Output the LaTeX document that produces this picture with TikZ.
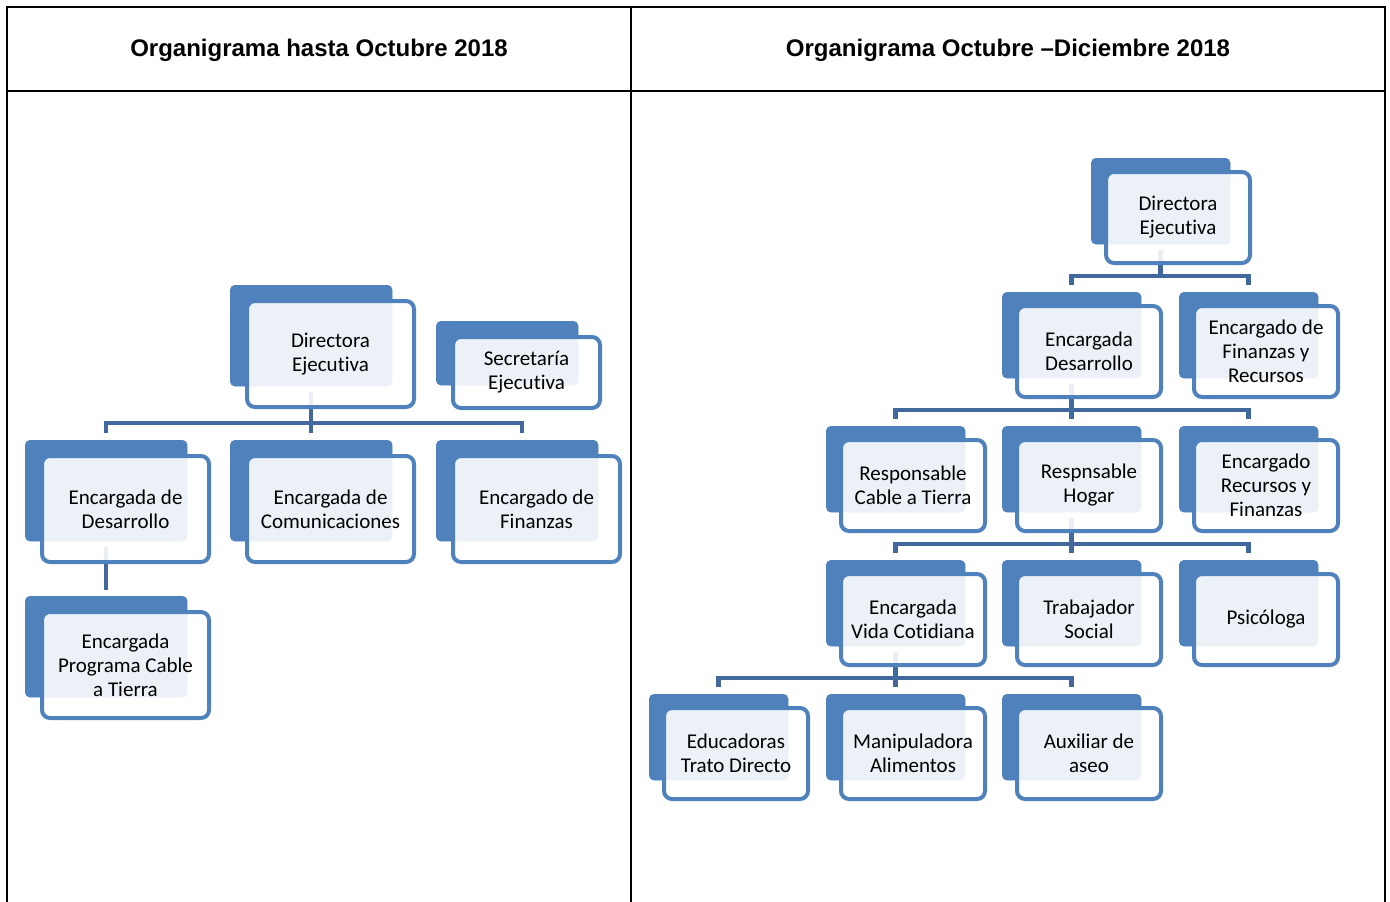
\documentclass[tikz,border=0pt]{standalone}
\usepackage{fontspec}
\setmainfont{Carlito}[Ligatures={NoCommon}, RawFeature={-liga,-clig,-calt,-dlig,-rlig}]
\newfontfamily\hdrfont{Liberation Sans}
\definecolor{boxblue}{HTML}{4F81BD}
\definecolor{connblue}{HTML}{41699D}
\begin{document}
\begin{tikzpicture}[x=1pt,y=-1pt,
  hdr/.style={font=\hdrfont\bfseries\fontsize{24}{28}\selectfont, inner sep=0pt},
  back/.style={fill=boxblue, draw=none, rounded corners=5pt, inner sep=0pt, anchor=north west},
  lback/.style={back, minimum width=162pt, minimum height=101pt},
  sback/.style={back, minimum width=142pt, minimum height=64pt},
  rback/.style={back, minimum width=139pt, minimum height=86pt},
  frame/.style={draw=boxblue, line width=4pt, fill=white, fill opacity=0.89, text opacity=1,
    rounded corners=8pt, inner sep=0pt, align=center, anchor=north west,
    font=\fontsize{21}{24}\selectfont},
  lframe/.style={frame, minimum width=167pt, minimum height=106pt, xshift=15pt, yshift=-14pt},
  sframe/.style={frame, minimum width=147pt, minimum height=71pt, xshift=15pt, yshift=-14pt},
  rframe/.style={frame, minimum width=144pt, minimum height=91pt, xshift=13pt, yshift=-12pt},
  conn/.style={draw=connblue, line width=4.5pt, line join=miter},
  rule/.style={draw=black, line width=2pt}
]
\useasboundingbox (0,0) rectangle (1390,902);
% table
\draw[rule] (7,902) -- (7,7) -- (1385,7) -- (1385,902);
\draw[rule] (7,91) -- (1385,91);
\draw[rule] (631,7) -- (631,902);
\node[hdr] (h1) at (319,50) {Organigrama hasta Octubre 2018};
\node[hdr] (h2) at (1008,50) {Organigrama Octubre –Diciembre 2018};

% ---------- left panel back shapes ----------
\node[lback] (ldirB) at (230,285) {};
\node[sback] (lsecB) at (436,321) {};
\node[lback] (ldesB) at (25,440) {};
\node[lback] (lcomB) at (230,440) {};
\node[lback] (lfinB) at (436,440) {};
\node[lback] (lcabB) at (25,596) {};

% ---------- right panel back shapes ----------
\node[rback] (rdirB) at (1091,158) {};
\node[rback] (rdesB) at (1002,292) {};
\node[rback] (rfinB) at (1179,292) {};
\node[rback] (rcabB) at (826,426) {};
\node[rback] (rhogB) at (1002,426) {};
\node[rback] (rrecB) at (1179,426) {};
\node[rback] (rvidB) at (826,560) {};
\node[rback] (rtraB) at (1002,560) {};
\node[rback] (rpsiB) at (1179,560) {};
\node[rback] (reduB) at (649,694) {};
\node[rback] (rmanB) at (826,694) {};
\node[rback] (rauxB) at (1002,694) {};

% ---------- connectors ----------
\foreach \c in {ldesB,lcomB}
  \draw[conn] ([yshift=-6pt]ldirB.south) |- ([yshift=17pt]\c.north) -- ([yshift=7pt]\c.north);
\draw[conn] ([yshift=-6pt]ldirB.south) |- ([xshift=5pt,yshift=17pt]lfinB.north) -- ([xshift=5pt,yshift=7pt]lfinB.north);
\draw[conn] ([yshift=-6pt]ldesB.south) -- ([yshift=6pt]lcabB.north);
\foreach \c in {rdesB,rfinB}
  \draw[conn] ([yshift=-6pt]rdirB.south) |- ([yshift=16pt]\c.north) -- ([yshift=7pt]\c.north);
\foreach \c in {rcabB,rhogB,rrecB}
  \draw[conn] ([yshift=-6pt]rdesB.south) |- ([yshift=16pt]\c.north) -- ([yshift=7pt]\c.north);
\foreach \c in {rvidB,rtraB,rpsiB}
  \draw[conn] ([yshift=-6pt]rhogB.south) |- ([yshift=16pt]\c.north) -- ([yshift=7pt]\c.north);
\foreach \c in {reduB,rmanB,rauxB}
  \draw[conn] ([yshift=-6pt]rvidB.south) |- ([yshift=16pt]\c.north) -- ([yshift=7pt]\c.north);

% redraw back shapes over connectors
\foreach \b in {ldirB,lsecB,ldesB,lcomB,lfinB,lcabB,rdirB,rdesB,rfinB,rcabB,rhogB,rrecB,rvidB,rtraB,rpsiB,reduB,rmanB,rauxB}
  \fill[boxblue, rounded corners=5pt] (\b.north west) rectangle (\b.south east);

% ---------- left panel frames ----------
\node[lframe] (ldir) at (ldirB.north west) {Directora\\Ejecutiva};
\node[sframe] (lsec) at (lsecB.north west) {Secretaría\\Ejecutiva};
\node[lframe] (ldes) at (ldesB.north west) {Encargada de\\Desarrollo};
\node[lframe] (lcom) at (lcomB.north west) {Encargada de\\Comunicaciones};
\node[lframe] (lfin) at (lfinB.north west) {Encargado de\\Finanzas};
\node[lframe] (lcab) at (lcabB.north west) {Encargada\\Programa Cable\\a Tierra};

% ---------- right panel frames ----------
\node[rframe] (rdir) at (rdirB.north west) {Directora\\Ejecutiva};
\node[rframe] (rdes) at (rdesB.north west) {Encargada\\Desarrollo};
\node[rframe] (rfin) at (rfinB.north west) {Encargado de\\Finanzas y\\Recursos};
\node[rframe] (rcab) at (rcabB.north west) {Responsable\\Cable a Tierra};
\node[rframe] (rhog) at (rhogB.north west) {Respnsable\\Hogar};
\node[rframe] (rrec) at (rrecB.north west) {Encargado\\Recursos y\\Finanzas};
\node[rframe] (rvid) at (rvidB.north west) {Encargada\\Vida Cotidiana};
\node[rframe] (rtra) at (rtraB.north west) {Trabajador\\Social};
\node[rframe] (rpsi) at (rpsiB.north west) {Psicóloga};
\node[rframe] (redu) at (reduB.north west) {Educadoras\\Trato Directo};
\node[rframe] (rman) at (rmanB.north west) {Manipuladora\\Alimentos};
\node[rframe] (raux) at (rauxB.north west) {Auxiliar de\\aseo};
\end{tikzpicture}
\end{document}
